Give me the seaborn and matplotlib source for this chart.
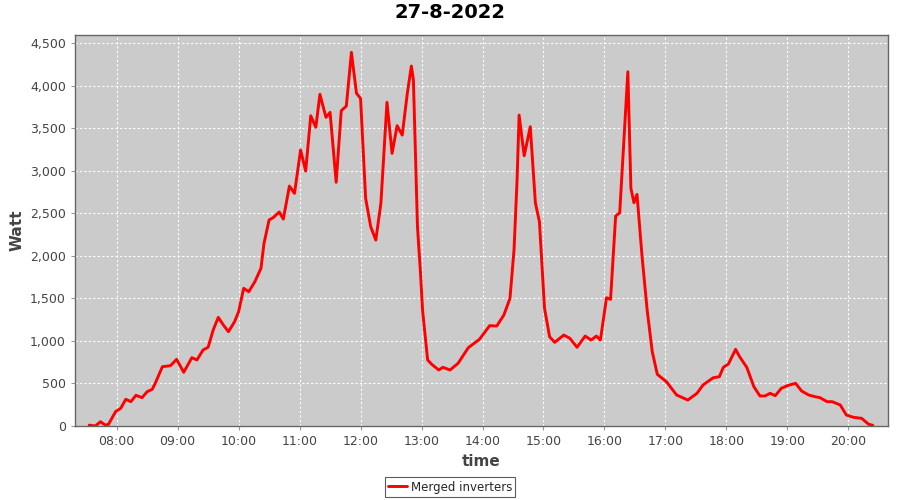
import pandas as pd
import matplotlib
matplotlib.use('Agg')
import matplotlib.pyplot as plt
import matplotlib.dates as mdates
from matplotlib.ticker import FuncFormatter, MultipleLocator
import seaborn as sns

# Data
day = '2022-08-27'
times = ['07:33', '07:39', '07:44', '07:49', '07:52', '07:59', '08:04', '08:09', '08:14', '08:19',
         '08:25', '08:30', '08:35', '08:38', '08:45', '08:53', '08:59', '09:06', '09:14', '09:19',
         '09:25', '09:30', '09:35', '09:40', '09:45', '09:50', '09:56', '10:00', '10:05', '10:10',
         '10:16', '10:22', '10:25', '10:30', '10:34', '10:40', '10:44', '10:50', '10:55', '11:01',
         '11:06', '11:11', '11:16', '11:20', '11:26', '11:30', '11:36', '11:41', '11:46', '11:51',
         '11:56', '12:00', '12:05', '12:10', '12:15', '12:20', '12:26', '12:31', '12:36', '12:41',
         '12:46', '12:50', '12:52', '12:56', '12:59', '13:01', '13:06', '13:10', '13:17', '13:21',
         '13:28', '13:36', '13:46', '13:57', '14:07', '14:14', '14:21', '14:27', '14:31', '14:34',
         '14:36', '14:41', '14:47', '14:52', '14:56', '15:01', '15:06', '15:11', '15:20', '15:26',
         '15:33', '15:41', '15:47', '15:52', '15:56', '16:02', '16:06', '16:11', '16:15', '16:23',
         '16:26', '16:29', '16:32', '16:37', '16:42', '16:47', '16:52', '17:01', '17:11', '17:22',
         '17:31', '17:37', '17:47', '17:53', '17:57', '18:02', '18:09', '18:13', '18:20', '18:27',
         '18:33', '18:38', '18:43', '18:48', '18:54', '19:00', '19:08', '19:14', '19:21', '19:27',
         '19:32', '19:39', '19:44', '19:52', '19:58', '20:05', '20:13', '20:20', '20:24']
watts = [10, 0, 50, 10, 20, 170, 208, 314, 286, 361,
         333, 403, 431, 502, 697, 709, 784, 631, 803, 776,
         893, 925, 1128, 1277, 1187, 1108, 1225, 1343, 1618, 1578,
         1696, 1853, 2147, 2421, 2448, 2515, 2432, 2820, 2734, 3243,
         2996, 3646, 3510, 3898, 3627, 3686, 2864, 3705, 3760, 4391,
         3909, 3850, 2675, 2342, 2185, 2617, 3804, 3204, 3529, 3419,
         3909, 4230, 4066, 2342, 1794, 1363, 776, 725, 658, 690,
         658, 737, 920, 1019, 1179, 1175, 1304, 1500, 2068, 2891,
         3654, 3176, 3517, 2624, 2401, 1383, 1049, 983, 1069, 1030,
         925, 1057, 1010, 1057, 1010, 1507, 1489, 2467, 2506, 4163,
         2793, 2624, 2722, 1989, 1363, 873, 607, 520, 364, 305,
         384, 482, 567, 579, 690, 729, 901, 814, 690, 462,
         353, 353, 384, 356, 443, 474, 502, 411, 364, 345,
         333, 286, 286, 247, 129, 102, 90, 20, 8]
series_name = 'Merged inverters'
x_range = ['07:19', '20:39']

df = pd.DataFrame({'time': pd.to_datetime([day + ' ' + t for t in times]), 'watt': watts})

sns.set_style('ticks')
plt.rcParams['font.family'] = ['DejaVu Sans']

fig = plt.figure(figsize=(9, 5), dpi=100)
ax = fig.add_axes([0.0833, 0.148, 0.9034, 0.782])
ax.set_facecolor('#cbcbcb')

sns.lineplot(data=df, x='time', y='watt', color='#ff0000', linewidth=2.1,
             label=series_name, ax=ax)

ax.set_xlim(pd.to_datetime(day + ' ' + x_range[0]), pd.to_datetime(day + ' ' + x_range[1]))
ax.set_ylim(0, 4595)
ax.yaxis.set_major_locator(MultipleLocator(500))
ax.yaxis.set_major_formatter(FuncFormatter(lambda v, p: f'{v:,.0f}'))
ax.xaxis.set_major_locator(mdates.HourLocator())
ax.xaxis.set_major_formatter(mdates.DateFormatter('%H:%M'))

ax.grid(True, color='white', linestyle=(0, (2, 2)), linewidth=0.8)
ax.set_axisbelow(True)
for s in ax.spines.values():
    s.set_color('#666666')
    s.set_linewidth(1)
ax.tick_params(colors='#999999', labelcolor='#444444', labelsize=9, length=3)

ax.set_xlabel('time', fontsize=11, color='#444444', fontweight='bold')
ax.set_ylabel('Watt', fontsize=11, color='#444444', fontweight='bold')
fig.text(0.5, 0.974, '27-8-2022', fontsize=14, fontweight='bold', color='black',
         ha='center', va='center')

ax.get_legend().remove()
handles, labels = ax.get_legend_handles_labels()
leg = fig.legend(handles, labels, loc='center', bbox_to_anchor=(0.5, 0.026),
                 fancybox=False, frameon=True, fontsize=8.5, handlelength=1.6,
                 borderpad=0.3, handletextpad=0.3, borderaxespad=0)
leg.get_frame().set_edgecolor('#333333')
leg.get_frame().set_linewidth(0.8)

plt.savefig('out.png', dpi=100)
